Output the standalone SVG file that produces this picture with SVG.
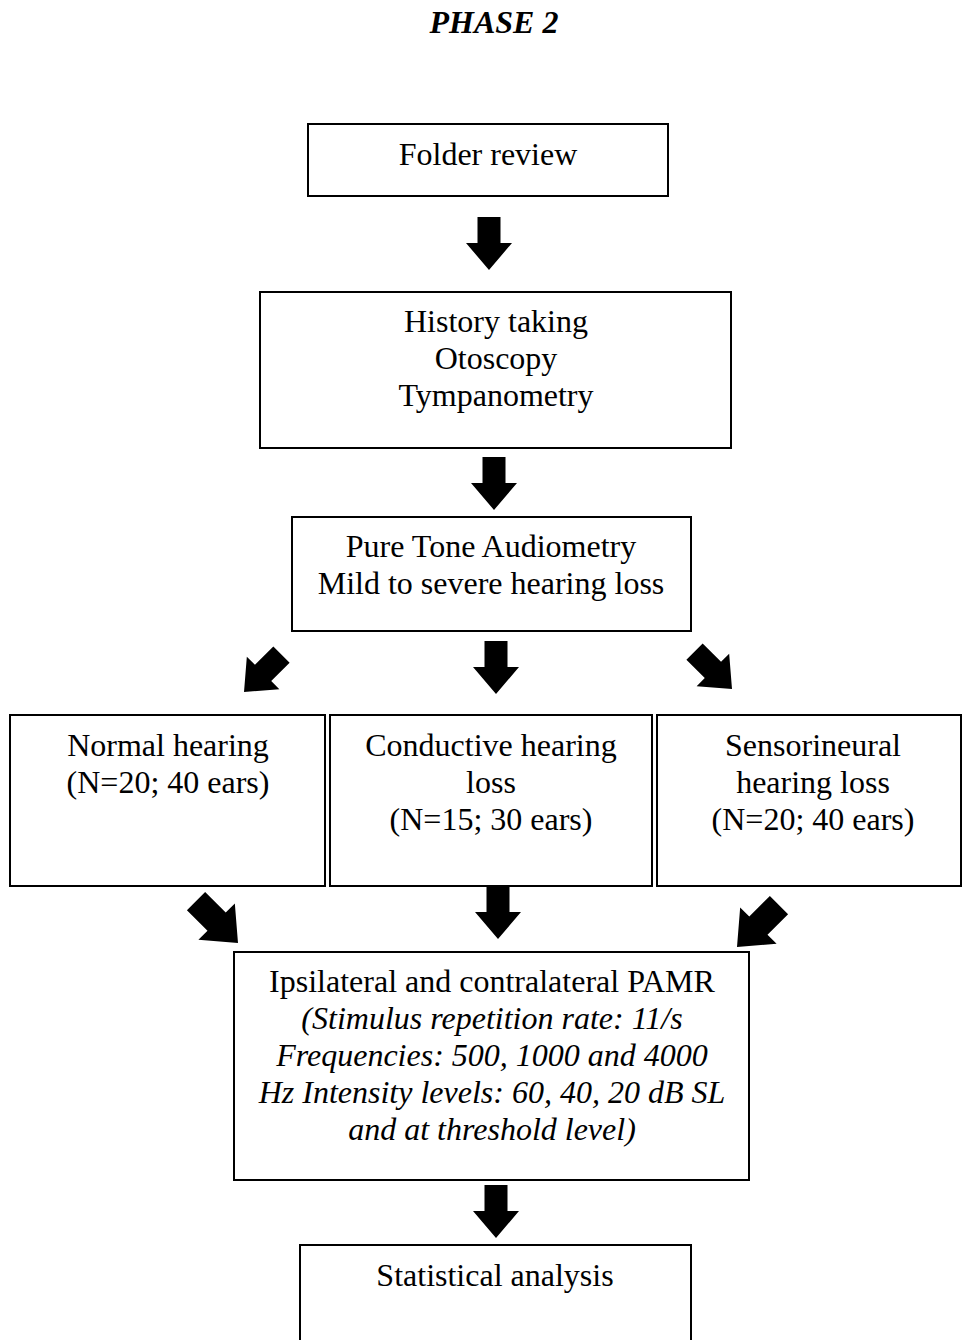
<svg xmlns="http://www.w3.org/2000/svg" width="963" height="1340" viewBox="0 0 963 1340">
<style>
.box{fill:#fff;stroke:#000;stroke-width:2}
text{font-family:"Liberation Serif","Times New Roman",serif;font-size:32px;fill:#000;text-anchor:middle}
.it{font-style:italic}
.title{font-weight:bold;font-style:italic;font-size:32px}
.arr{fill:#000}
</style>
<defs>
<path id="ar" d="M -11.5,-53 L 11.5,-53 L 11.5,-27 L 23,-27 L 0,0 L -23,-27 L -11.5,-27 Z"/>
</defs>
<rect width="963" height="1340" fill="#fff"/>
<text class="title" x="494" y="33">PHASE 2</text>
<g id="folder"><rect class="box" x="308" y="124" width="360" height="72"/><text x="488" y="165">Folder review</text></g>
<g id="history"><rect class="box" x="260" y="292" width="471" height="156"/><text x="496" y="332">History taking</text><text x="496" y="369">Otoscopy</text><text x="496" y="406">Tympanometry</text></g>
<g id="pta"><rect class="box" x="292" y="517" width="399" height="114"/><text x="491" y="557">Pure Tone Audiometry</text><text x="491" y="594">Mild to severe hearing loss</text></g>
<g id="normal"><rect class="box" x="10" y="715" width="315" height="171"/><text x="168" y="756">Normal hearing</text><text x="168" y="793">(N=20; 40 ears)</text></g>
<g id="conductive"><rect class="box" x="330" y="715" width="322" height="171"/><text x="491" y="756">Conductive hearing</text><text x="491" y="793">loss</text><text x="491" y="830">(N=15; 30 ears)</text></g>
<g id="sensorineural"><rect class="box" x="657" y="715" width="304" height="171"/><text x="813" y="756">Sensorineural</text><text x="813" y="793">hearing loss</text><text x="813" y="830">(N=20; 40 ears)</text></g>
<g id="pamr"><rect class="box" x="234" y="952" width="515" height="228"/><text x="492" y="992">Ipsilateral and contralateral PAMR</text><text class="it" x="492" y="1029">(Stimulus repetition rate: 11/s</text><text class="it" x="492" y="1066">Frequencies: 500, 1000 and 4000</text><text class="it" x="492" y="1103">Hz Intensity levels: 60, 40, 20 dB SL</text><text class="it" x="492" y="1140">and at threshold level)</text></g>
<g id="stats"><rect class="box" x="300" y="1245" width="391" height="120"/><text x="495" y="1286">Statistical analysis</text></g>
<g id="connectors" class="arr">
<use href="#ar" transform="translate(489,270)"/>
<use href="#ar" transform="translate(494,510)"/>
<use href="#ar" transform="translate(496,694)"/>
<use href="#ar" transform="translate(244,692) rotate(45)"/>
<use href="#ar" transform="translate(732,689) rotate(-45)"/>
<use href="#ar" transform="translate(238,943) rotate(-45) scale(1.12)"/>
<use href="#ar" transform="translate(498,939)"/>
<use href="#ar" transform="translate(737,947) rotate(45) scale(1.12)"/>
<use href="#ar" transform="translate(496,1238)"/>
</g>
</svg>
